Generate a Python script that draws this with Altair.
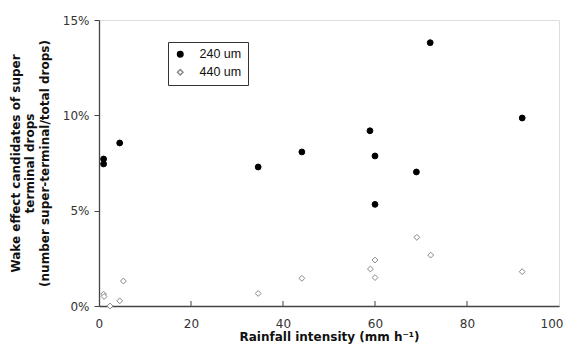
import altair as alt
import pandas as pd

# 240 um series (rainfall intensity mm/h, fraction)
x240 = [1.0, 1.0, 4.5, 34.6, 44.1, 58.9, 60.0, 60.0, 69.0, 72.0, 92.0]
y240 = [0.0771, 0.0745, 0.0855, 0.0729, 0.0808, 0.0919, 0.0787, 0.0533, 0.0703, 0.1381, 0.0986]
# 440 um series
x440 = [1.0, 1.1, 2.4, 4.5, 5.3, 34.6, 44.1, 59.0, 60.0, 60.0, 69.1, 72.1, 92.0]
y440 = [0.0062, 0.0050, 0.0000, 0.0027, 0.0131, 0.0066, 0.0145, 0.0194, 0.0241, 0.0149, 0.0360, 0.0267, 0.0180]
series = ["240 um", "440 um"]
x_ticks = [0, 20, 40, 60, 80, 100]
y_ticks = [0, 0.05, 0.10, 0.15]

df = pd.DataFrame({
    "x": x240 + x440,
    "y": y240 + y440,
    "s": [series[0]] * len(x240) + [series[1]] * len(x440),
})
ticks_df = pd.DataFrame({"t": x_ticks[1:-1]})

W, H = 460, 286
font = "DejaVu Sans"

xscale = alt.Scale(domain=[0, 100], nice=False)
yscale = alt.Scale(domain=[0, 0.15], nice=False)

points = alt.Chart(df).mark_point(filled=False, opacity=1, strokeWidth=1).encode(
    x=alt.X("x:Q", scale=xscale, axis=alt.Axis(
        values=x_ticks, ticks=False, title="Rainfall intensity (mm h\u207b\u00b9)",
        labelFontSize=12, labelFont=font, labelColor="#333", labelPadding=12,
        labelFlush=True, labelFlushOffset=4,
        titleFont=font, titleFontSize=12, titleFontWeight="bold", titleColor="#111",
        titlePadding=2, domainColor="#444", domainWidth=1.3, grid=False)),
    y=alt.Y("y:Q", scale=yscale, axis=alt.Axis(
        values=y_ticks, format=".0%", tickSize=5, tickColor="#444",
        title=["Wake effect candidates of super", "terminal drops",
               "(number super-terminal/total drops)"],
        labelFontSize=12, labelFont=font, labelColor="#333", labelPadding=5,
        labelFlush=False,
        titleFont=font, titleFontSize=12, titleFontWeight="bold", titleColor="#111",
        titleLineHeight=14.5, titlePadding=11, domainColor="#444", domainWidth=1.3,
        grid=False)),
    shape=alt.Shape("s:N", scale=alt.Scale(domain=series, range=["circle", "diamond"]),
                    legend=alt.Legend(title=None, orient="none", legendX=69, legendY=22,
                                      strokeColor="#333", fillColor="white", padding=6,
                                      labelFont="Liberation Sans", labelFontSize=12.5,
                                      labelColor="#111", labelOffset=13, rowPadding=5,
                                      symbolSize=30)),
    fill=alt.Fill("s:N", scale=alt.Scale(domain=series, range=["black", "white"])),
    stroke=alt.Stroke("s:N", scale=alt.Scale(domain=series, range=["black", "#888"])),
    size=alt.value(34),
)

xt = alt.Chart(ticks_df).mark_rule(color="#444", strokeWidth=1).encode(
    x=alt.X("t:Q", scale=xscale), y=alt.value(H), y2=alt.value(H - 5))

chart = alt.layer(xt, points).properties(
    width=W, height=H,
    autosize=alt.AutoSizeParams(type="none"),
    padding={"left": 91, "top": 12, "right": 5, "bottom": 41},
).configure_view(stroke="#555", strokeWidth=1.3).configure(background="white")

chart.save("out.html", embed_options={"renderer": "svg", "actions": False})
